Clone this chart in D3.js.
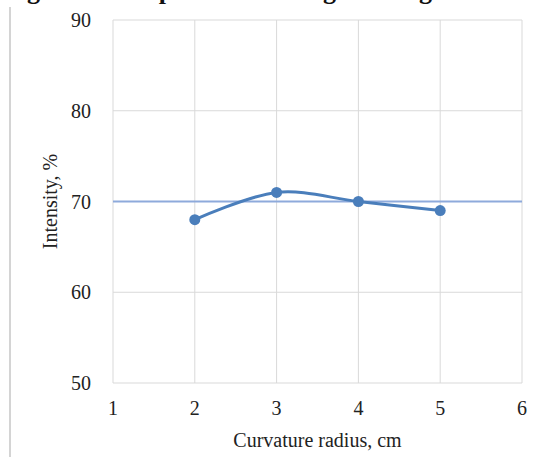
<!DOCTYPE html>
<html>
<head>
<meta charset="utf-8">
<script src="https://cdn.jsdelivr.net/npm/d3@7"></script>
<style>
  body { margin: 0; background: #fff; }
  svg { display: block; }
</style>
</head>
<body>
<div id="chart"></div>
<script>
const radius = [2, 3, 4, 5];
const intensity = [68, 71, 70, 69];
const refLevel = 70;
const xTicks = [1, 2, 3, 4, 5, 6];
const yTicks = [50, 60, 70, 80, 90];

const width = 540, height = 457;
const margins = {top: 20, left: 113, right: 18, bottom: 74};

const svg = d3.select("#chart").append("svg")
    .attr("width", width)
    .attr("height", height);

// caption cut off at the top of the crop (only descenders show)
svg.append("text")
    .attr("x", 4)
    .attr("y", -1)
    .attr("font-family", "Liberation Serif")
    .attr("font-weight", "bold")
    .attr("font-size", 26)
    .attr("fill", "#111")
    .text("Figure 5. Setup for measuring bending losses");

// page edge
svg.append("line")
    .attr("x1", 10).attr("x2", 10)
    .attr("y1", 7).attr("y2", height)
    .attr("stroke", "#d4d4d4")
    .attr("stroke-width", 2);

const x = d3.scaleLinear().domain([1, 6]).range([margins.left, width - margins.right]);
const y = d3.scaleLinear().domain([50, 90]).range([height - margins.bottom, margins.top]);

const body = svg.append("g");

// grid
body.selectAll(".vgrid").data(xTicks).enter().append("line")
    .attr("x1", d => x(d)).attr("x2", d => x(d))
    .attr("y1", y(50)).attr("y2", y(90))
    .attr("stroke", "#d9d9d9").attr("stroke-width", 1);
body.selectAll(".hgrid").data(yTicks).enter().append("line")
    .attr("x1", x(1)).attr("x2", x(6))
    .attr("y1", d => y(d)).attr("y2", d => y(d))
    .attr("stroke", "#d9d9d9").attr("stroke-width", 1);

// tick labels
svg.selectAll(".xl").data(xTicks).enter().append("text")
    .attr("x", d => x(d))
    .attr("y", y(50) + 32)
    .attr("text-anchor", "middle")
    .attr("font-family", "Liberation Serif")
    .attr("font-size", 20)
    .attr("fill", "#222")
    .text(d => d);
svg.selectAll(".yl").data(yTicks).enter().append("text")
    .attr("x", x(1) - 22)
    .attr("y", d => y(d) + 7)
    .attr("text-anchor", "end")
    .attr("font-family", "Liberation Serif")
    .attr("font-size", 20)
    .attr("fill", "#222")
    .text(d => d);

// axis titles
svg.append("text")
    .attr("x", (x(1) + x(6)) / 2)
    .attr("y", 447)
    .attr("text-anchor", "middle")
    .attr("font-family", "Liberation Serif")
    .attr("font-size", 20)
    .attr("fill", "#222")
    .text("Curvature radius, cm");
svg.append("text")
    .attr("transform", "translate(57," + y(70) + ") rotate(-90)")
    .attr("text-anchor", "middle")
    .attr("font-family", "Liberation Serif")
    .attr("font-size", 20)
    .attr("fill", "#222")
    .text("Intensity, %");

// reference level
body.append("line")
    .attr("x1", x(1)).attr("x2", x(6))
    .attr("y1", y(refLevel)).attr("y2", y(refLevel))
    .attr("stroke", "#8eaadb")
    .attr("stroke-width", 2);

// series
const pts = radius.map((r, i) => [r, intensity[i]]);
const line = d3.line()
    .x(d => x(d[0]))
    .y(d => y(d[1]))
    .curve(d3.curveCardinal.tension(0));
body.append("path")
    .attr("d", line(pts))
    .attr("fill", "none")
    .attr("stroke", "#4a7ebb")
    .attr("stroke-width", 3);
body.selectAll(".dot").data(pts).enter().append("circle")
    .attr("cx", d => x(d[0]))
    .attr("cy", d => y(d[1]))
    .attr("r", 5.5)
    .attr("fill", "#4a7ebb");
</script>
</body>
</html>
